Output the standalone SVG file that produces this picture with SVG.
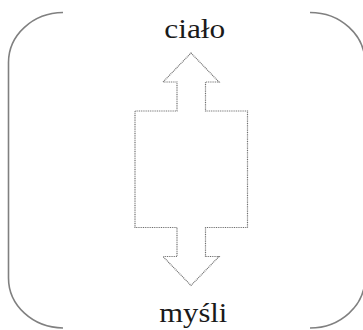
<svg xmlns="http://www.w3.org/2000/svg" width="363" height="330" viewBox="0 0 363 330">
<style>
.bracket{fill:none;stroke:#808080;stroke-width:1.6}
.arrow{fill:none;stroke:#6e6e6e;stroke-width:1.2;stroke-dasharray:1 0.8}
.lbl{font-family:"Liberation Serif","Times New Roman",serif;font-size:27px;fill:#1a1a1a}
</style>
<rect width="363" height="330" fill="#fff"/>
<g id="frame">
<path class="bracket" d="M63,12.5 A55 50 0 0 0 8.5 62.5 L8.5 278 A55 50 0 0 0 63 328"/>
<path class="bracket" d="M310,12.5 A55 50 0 0 1 365 62.5 L365 278 A55 50 0 0 1 310 328"/>
</g>
<g id="connectors">
<path id="double-arrow" class="arrow" d="M191,53 L219,82 L205.5,82 L205.5,111 L247.5,111 L247.5,227.5 L205.5,227.5 L205.5,256.5 L219,256.5 L191,285.5 L163,256.5 L177,256.5 L177,227.5 L135,227.5 L135,111 L177,111 L177,82 L163,82 Z"/>
</g>
<g id="node-cialo">
<text class="lbl" x="164.3" y="38.3" textLength="61" lengthAdjust="spacingAndGlyphs">ciało</text>
</g>
<g id="node-mysli">
<text class="lbl" x="159.3" y="322.3" textLength="68" lengthAdjust="spacingAndGlyphs">myśli</text>
</g>
</svg>
